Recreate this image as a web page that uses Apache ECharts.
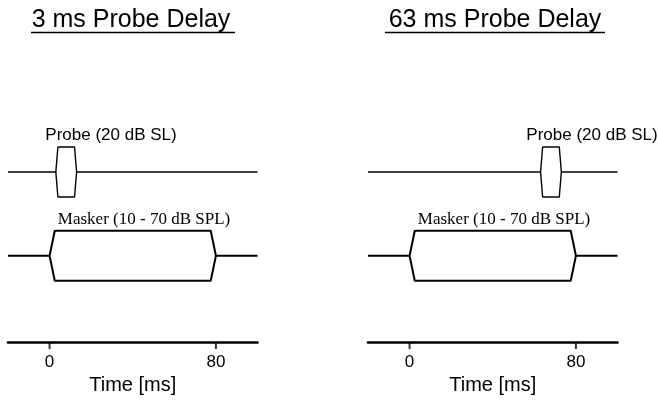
<!DOCTYPE html>
<html>
<head>
<meta charset="utf-8">
<style>
  html, body { margin: 0; padding: 0; background: #fff; }
  #chart { width: 658px; height: 405px; }
</style>
<script src="https://cdn.jsdelivr.net/npm/echarts@6/dist/echarts.min.js"></script>
</head>
<body>
<div id="chart"></div>
<script>
// Stimulus timing schematic: masker followed by a short probe tone.
const panelTitles = ['3 ms Probe Delay', '63 ms Probe Delay'];
const timeRange = [-20, 100];              // ms shown on each time axis
const timeTicks = [0, 80];                 // labelled tick positions (ms)
const axisName = 'Time [ms]';

// Envelope corner times (ms): onset start, ramp end, offset start, offset end
const maskerTimes = [0, 2.5, 77.5, 80];
const probeTimesShortDelay = [3, 4, 12, 13];
const probeTimesLongDelay = [63, 64, 72, 73];
const envelopeLevels = [0, 1, 1, 0];       // normalised envelope height

// Track rows on the vertical (arbitrary units)
const probeRow = 6.82;
const maskerRow = 3.47;

const probeLabel = 'Probe (20 dB SL)';
const maskerLabel = 'Masker (10 - 70 dB SPL)';

// Upper outline including the silent baseline on both sides
function upperPath(times, row) {
  const pts = [[timeRange[0], row]];
  times.forEach((t, i) => pts.push([t, row + envelopeLevels[i]]));
  pts.push([timeRange[1], row]);
  return pts;
}
// Lower half of the envelope (mirror image)
function lowerPath(times, row) {
  return times.map((t, i) => [t, row - envelopeLevels[i]]);
}

const panels = [
  { left: 8, probe: probeTimesShortDelay },
  { left: 368, probe: probeTimesLongDelay }
];
const panelWidth = 249.5;
const sans = 'Liberation Sans, Arial, sans-serif';
const serif = 'Liberation Serif, Times New Roman, serif';

const grids = [], xAxes = [], yAxes = [], series = [];
panels.forEach((p, k) => {
  grids.push({ left: p.left, width: panelWidth, top: 122.5, bottom: 62.5 });
  xAxes.push({
    type: 'value', gridIndex: k, min: timeRange[0], max: timeRange[1],
    splitLine: { show: false },
    axisLine: { show: true, onZero: false, lineStyle: { color: '#000', width: 2.6 } },
    axisTick: { show: false },
    axisLabel: { customValues: timeTicks, margin: 11, color: '#000',
                 fontFamily: sans, fontSize: 17 },
    name: axisName, nameLocation: 'middle', nameGap: 33,
    nameTextStyle: { color: '#000', fontFamily: sans, fontSize: 20 }
  });
  yAxes.push({ type: 'value', gridIndex: k, min: 0, max: 8.8, show: false });

  const line = (data, w) => ({
    type: 'line', xAxisIndex: k, yAxisIndex: k, data: data,
    symbol: 'none', silent: true, animation: false, clip: false,
    lineStyle: { color: '#000', width: w }
  });
  series.push(line(upperPath(p.probe, probeRow), 1.4));
  series.push(line(lowerPath(p.probe, probeRow), 1.4));
  series.push(line(upperPath(maskerTimes, maskerRow), 2));
  series.push(line(lowerPath(maskerTimes, maskerRow), 2));

  // Tick marks hanging below the time axis at the labelled times
  series.push({
    type: 'scatter', xAxisIndex: k, yAxisIndex: k, silent: true, clip: false,
    data: timeTicks.map(t => [t, 0]),
    symbol: 'rect', symbolSize: [2, 6], symbolOffset: [0, 3.5],
    itemStyle: { color: '#000' }
  });
});

function txt(text, x, y, size, family) {
  return { type: 'text', x: x, y: y, silent: true,
           style: { text: text, fill: '#000', font: size + 'px ' + family,
                    textAlign: 'center', textVerticalAlign: 'middle' } };
}
function rule(x1, x2, y) {
  return { type: 'line', silent: true,
           shape: { x1: x1, y1: y, x2: x2, y2: y },
           style: { stroke: '#000', lineWidth: 1.5 } };
}

const chart = echarts.init(document.getElementById('chart'), null, { renderer: 'canvas' });
chart.setOption({
  animation: false,
  backgroundColor: '#fff',
  grid: grids,
  xAxis: xAxes,
  yAxis: yAxes,
  series: series,
  graphic: [
    txt(panelTitles[0], 131, 20, 25, sans),
    rule(31, 235, 32.5),
    txt(panelTitles[1], 495, 20, 25, sans),
    rule(385, 605, 32.5),
    txt(probeLabel, 111, 135, 17, sans),
    txt(probeLabel, 592, 135, 17, sans),
    txt(maskerLabel, 144, 220, 17, serif),
    txt(maskerLabel, 504, 220, 17, serif)
  ]
});
</script>
</body>
</html>
